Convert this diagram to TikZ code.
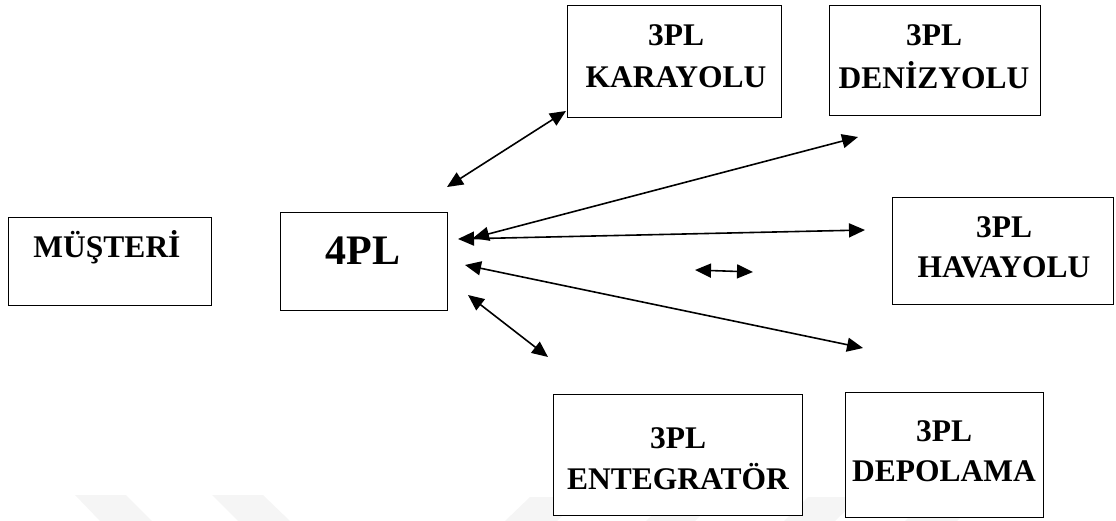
\documentclass[tikz,border=0pt]{standalone}
\usepackage{fontspec}
\setmainfont{Liberation Serif}
\usetikzlibrary{arrows.meta}
\begin{document}
\begin{tikzpicture}[x=1pt,y=-1pt,
  box/.style={draw=black, line width=1.4pt, fill=white, inner sep=0pt, anchor=north west},
  lbl/.style={font=\fontsize{31.5}{36}\selectfont\bfseries, anchor=base, inner sep=0pt},
  big/.style={font=\fontsize{42}{46}\selectfont\bfseries, anchor=base, inner sep=0pt},
  link/.style={line width=1.6pt, {Triangle[length=16pt,width=14pt]}-{Triangle[length=16pt,width=14pt]}},
  wm/.style={fill=black!4, draw=none}]
\useasboundingbox (0,0) rectangle (1116,521);

% faint background stripes
\fill[wm] (75,495) -- (126,495) -- (152,521) -- (100,521) -- cycle;
\fill[wm] (212,495) -- (263,495) -- (290,521) -- (238,521) -- cycle;
\fill[wm] (530,497) -- (582,497) -- (557,521) -- (505,521) -- cycle;
\fill[wm] (671,497) -- (720,497) -- (695,521) -- (646,521) -- cycle;
\fill[wm] (808,497) -- (860,497) -- (835,521) -- (784,521) -- cycle;
\fill[wm] (930,497) -- (982,497) -- (957,521) -- (905,521) -- cycle;

% boxes
\node[box, minimum width=203pt, minimum height=88pt]  (musteri) at (8,217) {};
\node[box, minimum width=167pt, minimum height=98pt]  (fourpl)  at (280,212) {};
\node[box, minimum width=214pt, minimum height=112pt] (kara)    at (567,5) {};
\node[box, minimum width=211pt, minimum height=110pt] (deniz)   at (829,5) {};
\node[box, minimum width=221pt, minimum height=107pt] (hava)    at (892,197) {};
\node[box, minimum width=249pt, minimum height=121pt] (entegr)  at (553,394) {};
\node[box, minimum width=198pt, minimum height=125pt] (depo)    at (845,392) {};

% labels
\node[lbl] (tmus) at (107,258) {MÜŞTERİ};
\node[big] (t4pl) at (363,265) {4PL};
\node[lbl] (tk1) at (676,46) {3PL};
\node[lbl] (tk2) at (676,88) {KARAYOLU};
\node[lbl] (td1) at (934,46) {3PL};
\node[lbl] (td2) at (934,89) {DENİZYOLU};
\node[lbl] (th1) at (1004,238) {3PL};
\node[lbl] (th2) at (1004,278) {HAVAYOLU};
\node[lbl] (te1) at (678,448) {3PL};
\node[lbl] (te2) at (678,489) {ENTEGRATÖR};
\node[lbl] (tp1) at (944,441) {3PL};
\node[lbl] (tp2) at (944,481) {DEPOLAMA};

% connector end points
\coordinate (k0) at (447,187);  \coordinate (k1) at (566,111);
\coordinate (d0) at (473,238);  \coordinate (d1) at (858,137);
\coordinate (h0) at (458,239);  \coordinate (h1) at (865,230);
\coordinate (p0) at (465,265);  \coordinate (p1) at (863,348);
\coordinate (e0) at (468,295);  \coordinate (e1) at (548,357);
\coordinate (s0) at (695,270);  \coordinate (s1) at (753,272);

% connectors
\draw[link] (k0) -- (k1);
\draw[link] (d0) -- (d1);
\draw[link] (h0) -- (h1);
\draw[link] (p0) -- (p1);
\draw[link] (e0) -- (e1);
\draw[link] (s0) -- (s1);
\end{tikzpicture}
\end{document}
